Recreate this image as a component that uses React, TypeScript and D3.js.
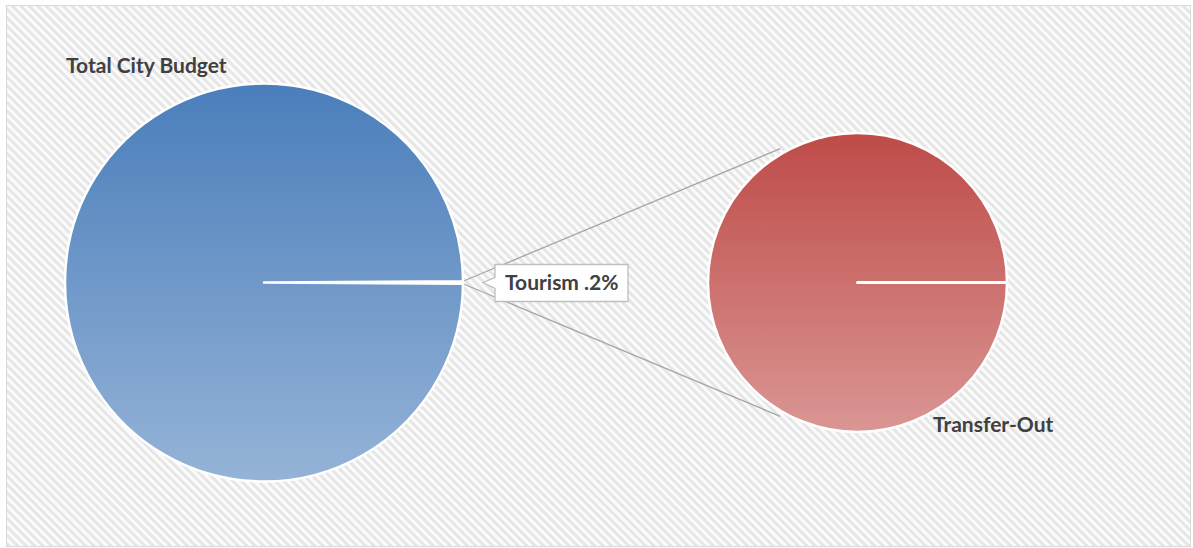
import React from "react";
import * as d3 from "d3";

const W = 1193;
const H = 548;

// main pie: whole budget vs. the split-out share
const mainLabels = ["Tourism", "Total City Budget"];
const mainValues = [0.2, 99.8];
// second pie: breakdown of the split-out share
const subLabels = ["Transfer-Out"];
const subValues = [100];

const textColor = "#404040";
const font = "Lato, 'Open Sans', sans-serif";

const mainC = { x: 264, y: 282.5, r: 199 };
const subC = { x: 857.5, y: 282.5, r: 149.5 };

const pt = (c: { x: number; y: number }, a: number, r: number) =>
    [c.x + r * Math.sin(a), c.y - r * Math.cos(a)] as [number, number];

export default function App() {
    const share = mainValues[0] / d3.sum(mainValues);
    const half = share * Math.PI;
    const mainPie = d3.pie<number>().sort(null)
        .startAngle(Math.PI / 2 - half)
        .endAngle(Math.PI / 2 - half + 2 * Math.PI)(mainValues);
    const subPie = d3.pie<number>().sort(null)
        .startAngle(Math.PI / 2)
        .endAngle(Math.PI / 2 + 2 * Math.PI)(subValues);

    const mainArc = d3.arc<d3.PieArcDatum<number>>().innerRadius(0).outerRadius(mainC.r);
    const subArc = d3.arc<d3.PieArcDatum<number>>().innerRadius(0).outerRadius(subC.r);

    const tour = mainPie[0];
    const p0 = pt(mainC, tour.startAngle, mainC.r);
    const p1 = pt(mainC, tour.endAngle, mainC.r);
    const q0 = pt(subC, -Math.PI / 6, subC.r + 5);
    const q1 = pt(subC, Math.PI + Math.PI / 6, subC.r + 5);
    const line = d3.line();

    // callout for tourism
    const tip = pt(mainC, Math.PI / 2, mainC.r + 20);
    const bx = tip[0] + 12, by = tip[1] - 18, bw = 133, bh = 37;
    const callout = `M${bx},${by} H${bx + bw} V${by + bh} H${bx} V${tip[1] + 6} L${tip[0]},${tip[1]} L${bx},${tip[1] - 5} Z`;

    const subStart = pt(subC, subPie[0].startAngle, subC.r);

    return (
        <svg width={W} height={H} style={{ position: "absolute", left: 0, top: 0 }}>
            <defs>
                <pattern id="stripes" width="6" height="6" patternUnits="userSpaceOnUse" patternTransform="rotate(45)">
                    <rect width="6" height="6" fill="#fbfbfb" />
                    <rect width="6" height="3" fill="#e6e6e6" />
                </pattern>
                <linearGradient id="gBlue" x1="0" y1="0" x2="0" y2="1">
                    <stop offset="0" stopColor="#4a7ebb" />
                    <stop offset="1" stopColor="#95b3d7" />
                </linearGradient>
                <linearGradient id="gRed" x1="0" y1="0" x2="0" y2="1">
                    <stop offset="0" stopColor="#be4b48" />
                    <stop offset="1" stopColor="#da9694" />
                </linearGradient>
            </defs>
            <rect x={6.5} y={5.5} width={1184} height={541} fill="url(#stripes)" stroke="#d9d9d9" strokeWidth={1} />

            <g fill="none" stroke="#a6a6a6" strokeWidth={1.3}>
                <path d={line([p0, q0]) as string} />
                <path d={line([p1, q1]) as string} />
            </g>

            <g transform={`translate(${mainC.x},${mainC.y})`}>
                {mainPie.map((d, i) => (
                    <path key={i} d={mainArc(d) as string} fill="url(#gBlue)" stroke="#fff" strokeWidth={2.5} strokeLinejoin="round" />
                ))}
            </g>

            <g>
                {subPie.map((d, i) => (
                    <path key={i} transform={`translate(${subC.x},${subC.y})`} d={subArc(d) as string} fill="url(#gRed)" stroke="#fff" strokeWidth={2.5} />
                ))}
                <line x1={subC.x} y1={subC.y} x2={subStart[0]} y2={subStart[1]} stroke="#fff" strokeWidth={3} strokeLinecap="round" />
            </g>

            <path d={callout} fill="#fff" stroke="#bfbfbf" strokeWidth={1.3} />

            <g fontFamily={font} fontWeight="bold" fontSize={21} fill={textColor}>
                <text x={bx + 10} y={tip[1] + 7}>{`${mainLabels[0]} .${mainValues[0] * 10}%`}</text>
                <text x={mainC.x - 198} y={mainC.y - 209.5}>{mainLabels[1]}</text>
                <text x={subC.x + 75.5} y={subC.y + 149}>{subLabels[0]}</text>
            </g>
        </svg>
    );
}
